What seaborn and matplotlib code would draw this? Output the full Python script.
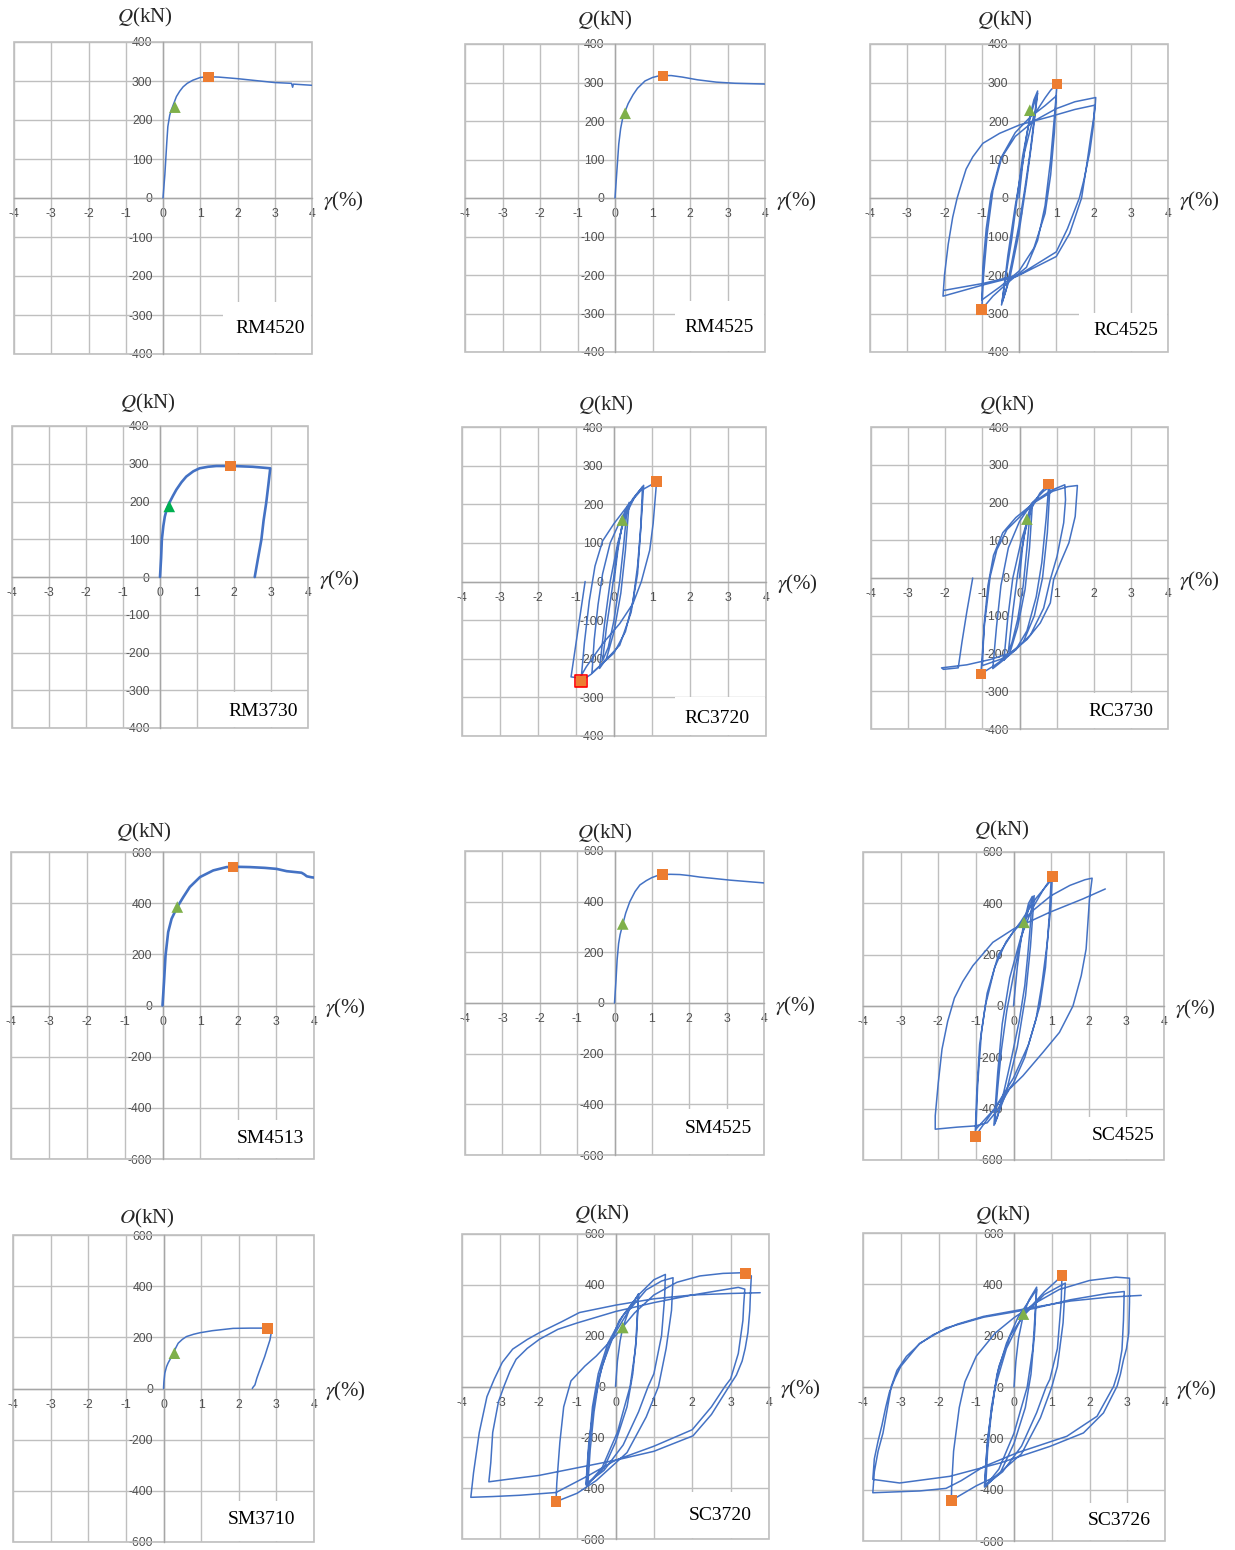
import matplotlib
matplotlib.use('Agg')
import matplotlib.pyplot as plt
from matplotlib.patches import Rectangle
import numpy as np
import pandas as pd
import seaborn as sns

# ---- data: (gamma %, Q kN) ----
rm4520_pts = [(0, 0), (0.05, 60), (0.1, 140), (0.13, 183), (0.18, 212), (0.22, 225), (0.3, 245),
              (0.36, 260), (0.45, 274), (0.54, 285), (0.65, 294), (0.8, 302), (1.0, 309), (1.2, 311),
              (1.5, 310), (2.0, 306), (2.5, 301), (3.0, 296), (3.45, 294), (3.48, 284), (3.5, 292), (4.0, 289)]
rm4520_tri = [(0.32, 233)]
rm4520_sq = [(1.23, 310)]

rm4525_pts = [(0, 0), (0.05, 70), (0.1, 140), (0.15, 180), (0.2, 205), (0.27, 225), (0.35, 245),
              (0.48, 268), (0.6, 285), (0.8, 304), (1.0, 313), (1.2, 318), (1.5, 318), (1.8, 314),
              (2.2, 307), (2.7, 301), (3.2, 298), (4.0, 296)]
rm4525_tri = [(0.27, 220)]
rm4525_sq = [(1.28, 317)]

rc4525_pts = [(0, 0), (0.1, 90), (0.2, 160), (0.3, 215), (0.4, 255), (0.5, 278), (0.4, 200), (0.3, 120),
              (0.15, 20), (0.0, -70), (-0.2, -170), (-0.35, -240), (-0.47, -278), (-0.35, -200),
              (-0.2, -110), (-0.05, 0), (0.1, 110), (0.3, 210), (0.45, 260), (0.5, 272), (0.35, 150),
              (0.2, 40), (0.0, -90), (-0.25, -210), (-0.45, -270), (-0.3, -150), (-0.1, -20), (0.15, 120),
              (0.4, 215), (0.7, 260), (0.85, 280), (1.02, 296), (0.95, 210), (0.85, 100), (0.7, -20),
              (0.5, -110), (0.2, -180), (-0.3, -220), (-0.7, -255), (-1.0, -289), (-0.95, -200),
              (-0.85, -90), (-0.7, 20), (-0.45, 110), (-0.1, 170), (0.3, 210), (0.7, 240), (1.0, 265),
              (0.95, 170), (0.85, 60), (0.7, -40), (0.4, -130), (0.0, -190), (-0.5, -230), (-1.0, -265),
              (-0.97, -180), (-0.88, -80), (-0.75, 10), (-0.5, 100), (-0.1, 160), (0.4, 200), (1.0, 232),
              (1.5, 250), (2.06, 261), (2.04, 230), (1.94, 168), (1.81, 81), (1.68, 0), (1.36, -92),
              (1.0, -152), (0.47, -178), (-0.07, -204), (-0.97, -226), (-2.04, -255), (-2.0, -200),
              (-1.9, -120), (-1.78, -50), (-1.66, 0), (-1.55, 35), (-1.42, 75), (-1.24, 107), (-0.97, 142),
              (-0.52, 168), (0.02, 190), (0.82, 211), (1.5, 230), (2.03, 241), (2.0, 190), (1.9, 120),
              (1.75, 50), (1.62, 0), (1.3, -80), (1.0, -140), (0.5, -170), (0.0, -200), (-0.97, -222),
              (-2.02, -240)]
rc4525_tri = [(0.29, 228)]
rc4525_sq = [(1.02, 296), (-1.0, -289)]

rm3730_pts = [(0, 0), (0.03, 50), (0.05, 99), (0.09, 135), (0.13, 160), (0.19, 182), (0.25, 196),
              (0.35, 215), (0.44, 231), (0.58, 251), (0.71, 266), (0.9, 280), (1.07, 288), (1.3, 292),
              (1.52, 294), (1.97, 294), (2.5, 292), (2.98, 288), (2.93, 245), (2.87, 196), (2.8, 150),
              (2.74, 99), (2.65, 50), (2.56, 0)]
rm3730_tri = [(0.25, 187)]
rm3730_sq = [(1.9, 294)]

rc3720_pts = [(0, 0), (0.1, 80), (0.2, 140), (0.3, 180), (0.35, 195), (0.25, 90), (0.15, 0), (0.0, -100),
              (-0.15, -170), (-0.3, -205), (-0.2, -120), (-0.05, -20), (0.1, 90), (0.25, 160), (0.4, 205),
              (0.3, 80), (0.18, -30), (0.0, -130), (-0.2, -200), (-0.38, -225), (-0.25, -110), (-0.1, 0),
              (0.1, 100), (0.3, 170), (0.55, 220), (0.78, 249), (0.72, 160), (0.62, 40), (0.5, -50),
              (0.3, -130), (0.0, -185), (-0.3, -212), (-0.58, -237), (-0.52, -150), (-0.42, -60),
              (-0.3, 20), (-0.1, 100), (0.2, 165), (0.5, 215), (0.75, 245), (0.7, 130), (0.62, 20),
              (0.45, -80), (0.15, -165), (-0.3, -212), (-0.6, -240), (-0.87, -258), (-0.78, -160),
              (-0.65, -50), (-0.5, 40), (-0.3, 105), (0.0, 150), (0.35, 195), (0.7, 235), (1.12, 258),
              (1.03, 150), (0.94, 81), (0.72, 0), (0.5, -57), (0.15, -109), (-0.29, -160), (-0.73, -221),
              (-0.9, -250), (-1.13, -247), (-1.0, -160), (-0.88, -80), (-0.76, 0)]
rc3720_tri = [(0.22, 159)]
rc3720_sq = [(1.12, 258), (-0.87, -258)]

rc3730_pts = [(0, 0), (0.08, 80), (0.2, 156), (0.3, 190), (0.2, 80), (0.1, -20), (-0.05, -110), (-0.2, -170),
              (-0.3, -195), (-0.18, -90), (-0.05, 10), (0.12, 110), (0.35, 200), (0.27, 80), (0.15, -30),
              (-0.05, -130), (-0.25, -195), (-0.42, -218), (-0.32, -110), (-0.18, 0), (0.05, 100),
              (0.3, 180), (0.55, 225), (0.79, 250), (0.72, 160), (0.6, 40), (0.45, -50), (0.2, -140),
              (-0.1, -190), (-0.4, -215), (-0.72, -240), (-0.62, -130), (-0.5, -20), (-0.3, 80),
              (0.0, 150), (0.35, 200), (0.65, 230), (0.82, 242), (0.75, 120), (0.62, 0), (0.4, -100),
              (0.1, -170), (-0.3, -205), (-0.65, -230), (-1.04, -254), (-0.95, -130), (-0.79, 4),
              (-0.61, 75), (-0.34, 128), (0.02, 163), (0.47, 207), (0.85, 232), (1.22, 247), (1.24, 207),
              (1.19, 146), (1.01, 57), (0.83, -4), (0.65, -80), (0.3, -150), (-0.1, -190), (-0.5, -215),
              (-1.0, -232), (-0.95, -120), (-0.85, -20), (-0.7, 60), (-0.45, 120), (-0.1, 160), (0.4, 200),
              (0.9, 230), (1.3, 242), (1.56, 245), (1.5, 163), (1.33, 93), (1.1, 40), (0.92, -4),
              (0.83, -66), (0.56, -119), (0.2, -163), (-0.25, -199), (-0.79, -216), (-1.42, -230),
              (-2.1, -238), (-2.05, -242), (-1.65, -238), (-1.55, -170), (-1.42, -90), (-1.26, 0)]
rc3730_tri = [(0.2, 156)]
rc3730_sq = [(0.79, 249), (-1.04, -254)]

sm4513_pts = [(0, 0), (0.04, 92), (0.08, 196), (0.15, 287), (0.24, 339), (0.39, 385), (0.55, 424),
              (0.72, 463), (0.99, 502), (1.34, 528), (1.69, 541), (2.0, 542), (2.31, 541), (2.7, 538),
              (3.01, 534), (3.28, 525), (3.67, 519), (3.74, 513), (3.81, 505), (3.94, 501), (4.0, 500)]
sm4513_tri = [(0.39, 385)]
sm4513_sq = [(1.86, 541)]

sm4525_pts = [(0, 0), (0.04, 90), (0.07, 170), (0.11, 235), (0.15, 270), (0.22, 310), (0.3, 355),
              (0.41, 400), (0.55, 440), (0.68, 466), (0.85, 483), (1.0, 495), (1.15, 503), (1.29, 507),
              (1.5, 508), (1.75, 507), (2.0, 503), (2.29, 497), (2.7, 491), (3.09, 485), (3.5, 480), (4.0, 474)]
sm4525_tri = [(0.22, 312)]
sm4525_sq = [(1.29, 507)]

sc4525_pts = [(0, 0), (0.1, 150), (0.2, 260), (0.28, 326), (0.4, 400), (0.5, 427), (0.45, 320), (0.38, 200),
              (0.3, 80), (0.15, -60), (-0.05, -200), (-0.25, -330), (-0.42, -430), (-0.5, -460),
              (-0.42, -320), (-0.32, -170), (-0.18, -20), (0.0, 120), (0.2, 260), (0.42, 390), (0.55, 430),
              (0.45, 230), (0.32, 40), (0.1, -160), (-0.2, -340), (-0.52, -465), (-0.42, -260), (-0.3, -70),
              (-0.1, 110), (0.2, 270), (0.5, 380), (0.8, 455), (1.03, 505), (1.0, 400), (0.9, 250),
              (0.75, 80), (0.6, -50), (0.3, -200), (0.0, -300), (-0.5, -400), (-1.02, -508), (-0.98, -350),
              (-0.9, -150), (-0.75, 0), (-0.5, 150), (-0.2, 250), (0.2, 330), (0.6, 420), (1.0, 490),
              (0.95, 350), (0.85, 150), (0.7, 0), (0.4, -150), (0.0, -280), (-0.5, -400), (-1.0, -480),
              (-0.95, -300), (-0.85, -100), (-0.7, 50), (-0.4, 200), (0.0, 290), (0.5, 370), (1.0, 430),
              (1.5, 470), (1.9, 492), (2.09, 498), (2.02, 417), (1.93, 222), (1.8, 118), (1.58, 0),
              (1.22, -103), (0.78, -181), (0.25, -272), (-0.11, -324), (-0.45, -410), (-0.7, -455),
              (-1.0, -467), (-1.5, -472), (-2.08, -480), (-2.08, -428), (-2.0, -300), (-1.9, -168),
              (-1.75, -60), (-1.57, 31), (-1.35, 95), (-1.08, 157), (-0.55, 248), (0.0, 300), (0.96, 365),
              (1.84, 417), (2.44, 456)]
sc4525_tri = [(0.28, 326)]
sc4525_sq = [(1.03, 505), (-1.02, -508)]

sm3710_pts = [(0, 0), (0.01, 25), (0.035, 60), (0.08, 85), (0.12, 99), (0.19, 118), (0.26, 138), (0.33, 160),
              (0.39, 177), (0.5, 192), (0.61, 203), (0.8, 212), (0.97, 218), (1.3, 226), (1.85, 235),
              (2.3, 236), (2.65, 236), (2.87, 235), (2.86, 215), (2.83, 190), (2.76, 158), (2.69, 125),
              (2.56, 73), (2.48, 40), (2.43, 14), (2.38, 5), (2.36, 0)]
sm3710_tri = [(0.29, 138)]
sm3710_sq = [(2.77, 234)]

sc3720_pts = [(0, 0), (0.05, 100), (0.12, 180), (0.19, 232), (0.35, 300), (0.6, 365), (0.55, 200), (0.45, 50),
              (0.3, -80), (0.0, -220), (-0.3, -320), (-0.72, -385), (-0.66, -250), (-0.56, -100),
              (-0.42, 40), (-0.2, 150), (0.1, 260), (0.6, 360), (0.52, 150), (0.38, 0), (0.05, -180),
              (-0.35, -320), (-0.76, -390), (-0.7, -250), (-0.6, -80), (-0.45, 50), (-0.2, 170), (0.2, 280),
              (0.6, 360), (1.0, 420), (1.3, 441), (1.28, 350), (1.2, 200), (1.0, 50), (0.85, 0), (0.6, -100),
              (0.2, -230), (-0.3, -330), (-0.77, -384), (-0.7, -230), (-0.55, -60), (-0.35, 80), (-0.05, 200),
              (0.35, 300), (0.8, 380), (1.2, 415), (1.5, 428), (1.46, 300), (1.32, 150), (1.12, 0),
              (0.8, -120), (0.3, -260), (-0.5, -370), (-1.0, -420), (-1.55, -453), (-1.53, -380),
              (-1.45, -220), (-1.35, -80), (-1.16, 22), (-0.8, 80), (-0.5, 120), (0.0, 200), (0.5, 290),
              (1.0, 360), (1.6, 410), (2.2, 435), (2.8, 445), (3.39, 448), (3.54, 435), (3.52, 380),
              (3.5, 300), (3.45, 212), (3.38, 150), (3.3, 100), (3.15, 45), (2.97, 3), (2.5, -110),
              (2.02, -194), (1.0, -255), (0.0, -290), (-1.0, -320), (-2.0, -350), (-2.8, -365), (-3.3, -375),
              (-3.25, -300), (-3.2, -181), (-3.05, -60), (-2.9, 3), (-2.75, 60), (-2.59, 107), (-2.3, 150),
              (-1.98, 186), (-1.5, 225), (-1.0, 250), (0.0, 295), (1.0, 330), (2.0, 360), (2.8, 380),
              (3.2, 390), (3.37, 383), (3.34, 320), (3.32, 260), (3.2, 130), (3.0, 30), (2.85, 0), (2.5, -80),
              (2.0, -170), (1.0, -235), (0.0, -290), (-0.7, -350), (-1.55, -417), (-2.5, -428), (-3.2, -433),
              (-3.77, -436), (-3.7, -340), (-3.55, -181), (-3.35, -40), (-3.16, 29), (-2.95, 95),
              (-2.68, 147), (-2.3, 185), (-1.98, 212), (-1.4, 255), (-0.94, 291), (0.0, 320), (1.0, 345),
              (2.0, 360), (3.0, 366), (3.77, 369)]
sc3720_tri = [(0.19, 232)]
sc3720_sq = [(3.39, 445), (-1.55, -453)]

sc3726_pts = [(0, 0), (0.05, 100), (0.12, 190), (0.25, 284), (0.4, 340), (0.6, 389), (0.55, 220), (0.45, 50),
              (0.3, -80), (0.0, -220), (-0.35, -330), (-0.75, -387), (-0.7, -250), (-0.6, -100), (-0.45, 50),
              (-0.2, 170), (0.1, 270), (0.6, 380), (0.5, 150), (0.35, 0), (0.0, -180), (-0.4, -320),
              (-0.78, -390), (-0.72, -250), (-0.6, -80), (-0.4, 80), (-0.1, 200), (0.3, 290), (0.8, 370),
              (1.27, 433), (1.25, 330), (1.15, 150), (0.95, 30), (0.85, 0), (0.6, -100), (0.2, -230),
              (-0.3, -330), (-0.78, -385), (-0.7, -200), (-0.5, 0), (-0.2, 150), (0.2, 270), (0.8, 360),
              (1.36, 405), (1.3, 250), (1.15, 80), (1.0, 0), (0.7, -120), (0.2, -260), (-0.5, -350),
              (-1.0, -385), (-1.66, -442), (-1.65, -380), (-1.6, -250), (-1.45, -80), (-1.3, 20),
              (-1.0, 120), (-0.5, 210), (0.0, 270), (0.6, 330), (1.2, 380), (2.0, 415), (2.7, 428),
              (3.06, 424), (3.06, 330), (3.04, 210), (2.98, 150), (2.9, 106), (2.82, 50), (2.73, 3),
              (2.37, -101), (1.84, -179), (0.96, -231), (-0.37, -296), (-1.7, -348), (-3.03, -374),
              (-3.74, -360), (-3.7, -280), (-3.6, -210), (-3.5, -150), (-3.4, -80), (-3.3, -20),
              (-3.15, 35), (-3.0, 80), (-2.5, 170), (-1.8, 230), (-0.8, 272), (0.5, 305), (1.5, 340),
              (2.5, 365), (2.92, 372), (2.9, 260), (2.86, 145), (2.76, 60), (2.64, 3), (2.2, -114),
              (1.4, -192), (0.07, -257), (-0.8, -310), (-1.4, -365), (-1.8, -395), (-2.5, -405),
              (-3.74, -412), (-3.7, -330), (-3.6, -250), (-3.47, -179), (-3.35, -80), (-3.25, 3),
              (-3.1, 65), (-2.85, 119), (-2.5, 168), (-2.14, 204), (-1.5, 245), (-0.81, 275), (0.5, 310),
              (1.5, 335), (2.5, 350), (3.37, 357)]
sc3726_tri = [(0.25, 284)]
sc3726_sq = [(1.27, 433), (-1.66, -442)]

# ---- layout (pixel boxes of the plot areas in the 1235x1550 image) ----
W, H = 1235, 1550
BLUE = '#4472C4'
GRID = '#BFBFBF'
AXC = '#A6A6A6'
TRI = '#7FB04A'
SQ = '#ED7D31'

panels = [
    # name, box (x0, x1, y0, y1), ylim, step, pts, tri, sq, lw, q label offset, name pos, name box top
    ('RM4520', (14, 312, 42, 354), 400, 100, rm4520_pts, rm4520_tri, rm4520_sq, 1.1, (-18, 25), (0.86, 0.082), 0.168, 'Q'),
    ('RM4525', (465, 765, 44, 352), 400, 100, rm4525_pts, rm4525_tri, rm4525_sq, 1.1, (-10, 24), (0.847, 0.078), 0.165, 'Q'),
    ('RC4525', (870, 1168, 44, 352), 400, 100, rc4525_pts, rc4525_tri, rc4525_sq, 1.1, (-14, 24), (0.86, 0.071), 0.126, 'Q'),
    ('RM3730', (12, 308, 426, 728), 400, 100, rm3730_pts, rm3730_tri, rm3730_sq, 1.9, (-12, 23), (0.848, 0.054), 0.12, 'Q'),
    ('RC3720', (462, 766, 427, 736), 400, 100, rc3720_pts, rc3720_tri, rc3720_sq, 1.1, (-8, 22), (0.84, 0.058), 0.125, 'Q'),
    ('RC3730', (871, 1168, 427, 729), 400, 100, rc3730_pts, rc3730_tri, rc3730_sq, 1.1, (-13, 22), (0.84, 0.057), 0.12, 'Q'),
    ('SM4513', (11, 314, 852, 1159), 600, 200, sm4513_pts, sm4513_tri, sm4513_sq, 1.9, (-19, 20), (0.855, 0.068), 0.127, 'Q'),
    ('SM4525', (465, 764, 851, 1155), 600, 200, sm4525_pts, sm4525_tri, sm4525_sq, 1.1, (-10, 18), (0.846, 0.086), 0.15, 'Q'),
    ('SC4525', (863, 1164, 852, 1160), 600, 200, sc4525_pts, sc4525_tri, sc4525_sq, 1.1, (-12, 22), (0.865, 0.078), 0.138, 'Q'),
    ('SM3710', (13, 314, 1235, 1542), 600, 200, sm3710_pts, sm3710_tri, sm3710_sq, 1.1, (-17, 17), (0.826, 0.074), 0.133, 'O'),
    ('SC3720', (462, 769, 1234, 1539), 600, 200, sc3720_pts, sc3720_tri, sc3720_sq, 1.1, (-14, 20), (0.84, 0.076), 0.154, 'Q'),
    ('SC3726', (863, 1165, 1233, 1541), 600, 200, sc3726_pts, sc3726_tri, sc3726_sq, 1.1, (-11, 18), (0.848, 0.065), 0.122, 'Q'),
]

sns.set_style('white')
plt.rcParams['font.family'] = ['Liberation Sans', 'DejaVu Sans']
plt.rcParams['mathtext.fontset'] = 'stix'
plt.rcParams['axes.unicode_minus'] = False

fig = plt.figure(figsize=(W / 100, H / 100), dpi=100)
fig.patch.set_facecolor('white')

for name, box, lim, step, pts, tri, sq, lw, qoff, npos, ntop, qch in panels:
    x0, x1, y0, y1 = box
    ax = fig.add_axes([x0 / W, 1 - y1 / H, (x1 - x0) / W, (y1 - y0) / H])
    df = pd.DataFrame(pts, columns=['g', 'q'])
    sns.lineplot(data=df, x='g', y='q', sort=False, estimator=None, color=BLUE, lw=lw, ax=ax, zorder=3)

    tdf = pd.DataFrame(tri, columns=['g', 'q'])
    tcol = '#00B050' if name == 'RM3730' else TRI
    sns.scatterplot(data=tdf, x='g', y='q', marker='^', s=70, color=tcol, edgecolor='none', ax=ax, zorder=4)
    sdf = pd.DataFrame(sq, columns=['g', 'q'])
    sns.scatterplot(data=sdf, x='g', y='q', marker='s', s=60, color=SQ, edgecolor='none', ax=ax, zorder=4)
    if name == 'RC3720':
        sns.scatterplot(data=sdf.iloc[[1]], x='g', y='q', marker='s', s=75, facecolor='none',
                        edgecolor='red', linewidth=1.2, ax=ax, zorder=5)

    ax.set_xlim(-4, 4)
    ax.set_ylim(-lim, lim)
    ax.set_xticks(range(-4, 5))
    ax.set_yticks(np.arange(-lim, lim + 1, step))
    ax.set_xlabel('')
    ax.set_ylabel('')
    ax.grid(True, color=GRID, lw=1)
    ax.set_axisbelow(True)
    for s in ['top', 'right']:
        ax.spines[s].set_visible(False)
    ax.spines['left'].set_position(('data', 0))
    ax.spines['bottom'].set_position(('data', 0))
    for s in ['left', 'bottom']:
        ax.spines[s].set_color(AXC)
        ax.spines[s].set_linewidth(1)
    ax.add_patch(Rectangle((0, 0), 1, 1, transform=ax.transAxes, fill=False,
                           edgecolor=GRID, lw=1.2, clip_on=False, zorder=1))
    ax.tick_params(direction='inout', length=5, color=AXC, labelsize=8.8,
                   labelcolor='#505050', pad=5)

    # white label box with specimen name
    ax.add_patch(Rectangle((0.70, 0.004), 0.296, ntop - 0.004, transform=ax.transAxes,
                           facecolor='white', edgecolor='none', zorder=2))
    ax.text(npos[0], npos[1], name, transform=ax.transAxes, ha='center', va='center',
            fontsize=14, family='Liberation Serif', color='black', zorder=6)

    ax.annotate('$' + qch + '$(kN)', xy=(0, 1), xycoords=('data', 'axes fraction'),
                xytext=qoff, textcoords='offset pixels', ha='center', va='center',
                fontsize=15, family='Liberation Serif', annotation_clip=False)
    ax.annotate(r'$\gamma$(%)', xy=(1, 0), xycoords=('axes fraction', 'data'),
                xytext=(11, -3), textcoords='offset pixels', ha='left', va='center',
                fontsize=15, family='Liberation Serif', annotation_clip=False)

fig.savefig('out.png', dpi=100, facecolor='white')
